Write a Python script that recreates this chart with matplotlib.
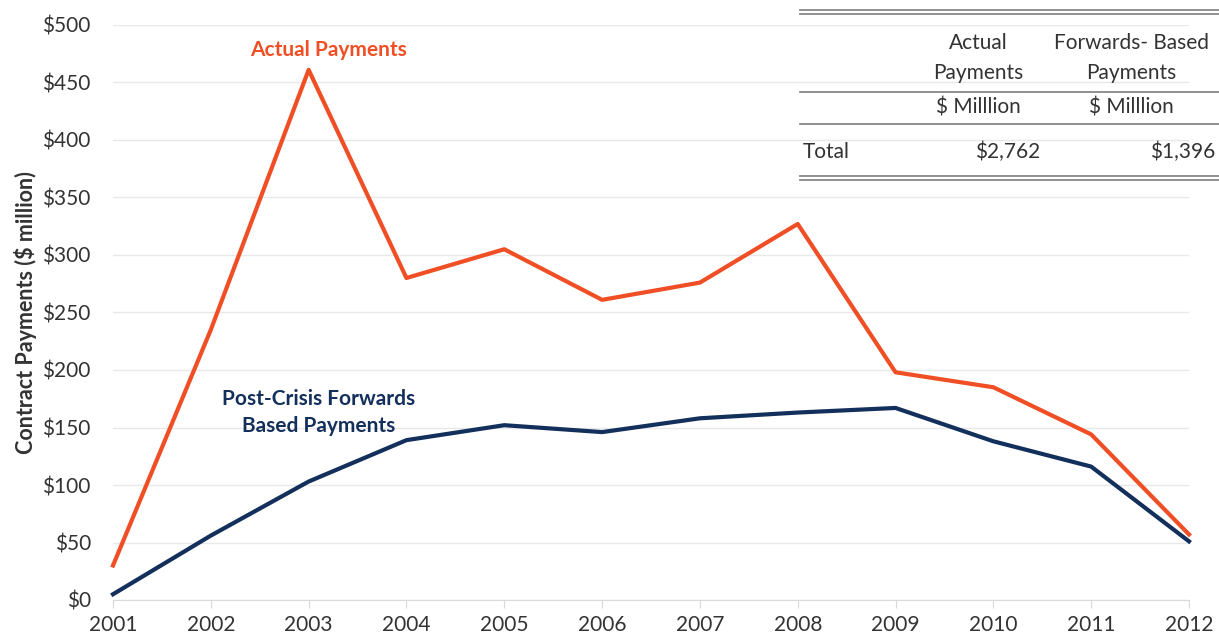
import matplotlib.pyplot as plt
from matplotlib.ticker import FuncFormatter

plt.rcParams['font.family'] = ['Lato', 'DejaVu Sans']

years = list(range(2001, 2013))
actual = [30, 235, 461, 280, 305, 261, 276, 327, 198, 185, 144, 57]
forwards = [5, 56, 103, 139, 152, 146, 158, 163, 167, 138, 116, 51]

table_cols = ["Actual\nPayments", "Forwards- Based\nPayments"]
table_units = ["$ Milllion", "$ Milllion"]
table_totals = ["$2,762", "$1,396"]

orange = "#F04E25"
navy = "#132F5B"
txt = "#333333"

fig = plt.figure(figsize=(12.19, 6.41), dpi=100)
ax = fig.add_axes([113/1219, 41/641, (1189-113)/1219, (600-25)/641])

ax.plot(years, actual, color=orange, lw=3, clip_on=False, zorder=3)
ax.plot(years, forwards, color=navy, lw=3, clip_on=False, zorder=3)

ax.set_xlim(2001, 2012)
ax.set_ylim(0, 500)
ax.set_yticks(range(0, 501, 50))
ax.set_xticks(years)
ax.yaxis.set_major_formatter(FuncFormatter(lambda v, p: "$%d" % v))
ax.grid(axis='y', color="#e8e8e8", lw=1)
for s in ['top', 'right', 'left']:
    ax.spines[s].set_visible(False)
ax.spines['bottom'].set_color("#d9d9d9")
ax.tick_params(axis='y', length=0, labelsize=15, colors=txt, pad=16)
ax.tick_params(axis='x', length=6, color="#d9d9d9", labelsize=15, colors=txt, pad=5)
ax.set_ylabel("Contract Payments ($ million)", fontsize=15.5, fontweight='bold', color=txt, labelpad=4)

ax.text(2003.2, 478, "Actual Payments", color=orange, fontsize=15, fontweight='bold', ha='center', va='center')
ax.text(2003.1, 163, "Post-Crisis Forwards\nBased Payments", color=navy, fontsize=15, fontweight='bold',
        ha='center', va='center', linespacing=1.4)

# tableau en haut a droite (coordonnees pixels)
ov = fig.add_axes([0, 0, 1, 1], facecolor='none')
ov.set_xlim(0, 1219)
ov.set_ylim(641, 0)
ov.axis('off')
for y in [10, 14, 176, 180]:
    ov.plot([800, 1219], [y, y], color="#888888", lw=1.3)
for y in [92, 124]:
    ov.plot([800, 1219], [y, y], color="#888888", lw=1.3)

col_x = [978, 1131]
for cx, c, u in zip(col_x, table_cols, table_units):
    ov.text(cx, 58, c, ha='center', va='center', fontsize=15, color=txt, linespacing=1.6)
    ov.text(cx, 107, u, ha='center', va='center', fontsize=15, color=txt)
ov.text(803, 152, "Total", ha='left', va='center', fontsize=15, color=txt)
for rx, t in zip([1040, 1215], table_totals):
    ov.text(rx, 152, t, ha='right', va='center', fontsize=15, color=txt)

fig.savefig("out.png", dpi=100)
